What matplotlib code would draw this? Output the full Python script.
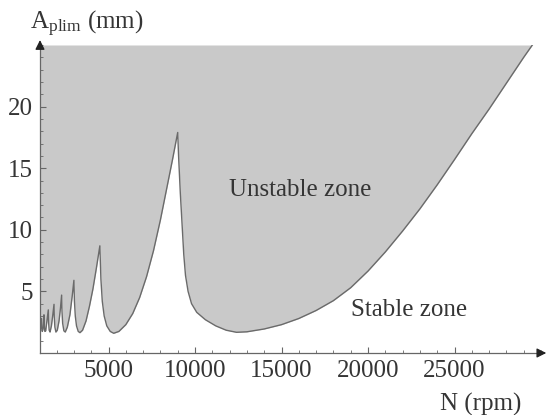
import matplotlib
matplotlib.use("Agg")
import matplotlib.pyplot as plt
from matplotlib.ticker import MultipleLocator

# ---- data (spindle speed rpm, limiting depth mm) ----
N_rpm = [1040, 1060, 1090, 1125,
         1140, 1170, 1210, 1240, 1270,
         1285, 1320, 1370, 1440, 1520,
         1535, 1570, 1620, 1700, 1780, 1850,
         1865, 1900, 1960, 2040, 2140, 2220, 2290,
         2310, 2350, 2420, 2500, 2620, 2770, 2900, 3000,
         3030, 3080, 3150, 3250, 3350, 3500, 3700, 3900, 4100, 4300, 4500,
         4560, 4640, 4750, 4900, 5100, 5300, 5600, 6000, 6400, 6800, 7200,
         7600, 8000, 8400, 8700, 9000,
         9050, 9150, 9250, 9350, 9450, 9600, 9800, 10100, 10600, 11200,
         11800, 12400, 13000, 14000, 15000, 16000, 17000, 18000, 19000,
         20000, 21000, 22000, 23000, 24000, 25000, 26000, 27000, 28000,
         29000, 29500]
A_plim = [2.2, 1.8, 2.2, 2.8,
          2.1, 1.75, 1.9, 2.4, 3.1,
          2.3, 1.75, 1.8, 2.6, 3.5,
          2.5, 1.85, 1.7, 2.2, 3.1, 3.95,
          2.9, 2.1, 1.7, 1.85, 2.6, 3.6, 4.7,
          3.4, 2.4, 1.8, 1.7, 2.1, 3.1, 4.6, 5.9,
          4.2, 3.0, 2.2, 1.75, 1.65, 1.85, 2.6, 3.8, 5.2, 6.9, 8.7,
          6.0, 4.2, 3.0, 2.2, 1.75, 1.6, 1.75, 2.3, 3.2, 4.5, 6.2,
          8.3, 10.8, 13.6, 15.7, 17.9,
          16.0, 13.0, 10.5, 8.0, 6.3, 5.0, 4.0, 3.3, 2.7, 2.2,
          1.85, 1.68, 1.72, 1.95, 2.3, 2.8, 3.45, 4.25, 5.3,
          6.65, 8.2, 9.9, 11.7, 13.65, 15.7, 17.8, 19.8, 21.9,
          24.0, 25.0]

x_ticks = [5000, 10000, 15000, 20000, 25000]
y_ticks = [5, 10, 15, 20]
labels = {"unstable": "Unstable zone", "stable": "Stable zone",
          "x": "N (rpm)"}

plt.rcParams["font.family"] = ["Liberation Serif", "DejaVu Serif"]
plt.rcParams["mathtext.fontset"] = "custom"
plt.rcParams["mathtext.rm"] = "Liberation Serif"
plt.rcParams["mathtext.it"] = "Liberation Serif:italic"

W, H = 554, 415
fig = plt.figure(figsize=(W / 100, H / 100), dpi=100)
x0, x1, y0, y1 = 40, 541, 353, 45
ax = fig.add_axes([x0 / W, 1 - y0 / H, (x1 - x0) / W, (y0 - y1) / H])
ax.set_xlim(1040, 30000)
ax.set_ylim(0, 25)

txt = "#353535"
axc = "#666666"
ax.fill_between(N_rpm, A_plim, 25, color="#c9c9c9", lw=0)
ax.plot(N_rpm, A_plim, color="#6a6a6a", lw=1.0)

for s in ["top", "right"]:
    ax.spines[s].set_visible(False)
for s in ["left", "bottom"]:
    ax.spines[s].set_color(axc)
    ax.spines[s].set_linewidth(0.9)

ax.set_xticks(x_ticks)
ax.set_yticks(y_ticks)
ax.xaxis.set_minor_locator(MultipleLocator(1000))
ax.yaxis.set_minor_locator(MultipleLocator(1))
ax.tick_params(which="major", direction="in", length=4, width=0.8,
               color=axc, labelsize=18, labelcolor=txt, pad=5)
ax.tick_params(which="minor", direction="in", length=2.5, width=0.6,
               color=axc)

# axis arrows
ax.annotate("", xy=(1.016, 0), xytext=(0.99, 0), xycoords="axes fraction",
            arrowprops=dict(arrowstyle="-|>", color="#222222", lw=0.9,
                            mutation_scale=14), annotation_clip=False)
ax.annotate("", xy=(0, 1.025), xytext=(0, 0.99), xycoords="axes fraction",
            arrowprops=dict(arrowstyle="-|>", color="#222222", lw=0.9,
                            mutation_scale=14), annotation_clip=False)

ax.text(16100, 13.2, labels["unstable"], fontsize=18, color=txt,
        ha="center", va="center")
ax.text(22400, 3.5, labels["stable"], fontsize=18, color=txt,
        ha="center", va="center")

fig.text(30 / W, 1 - 24 / H, r"A$_{\mathrm{plim}}$ (mm)", fontsize=18,
         color=txt, ha="left", va="center")
fig.text(481 / W, 1 - 404 / H, labels["x"], fontsize=18, color=txt,
         ha="center", va="center")

fig.savefig("out.png", dpi=100)
